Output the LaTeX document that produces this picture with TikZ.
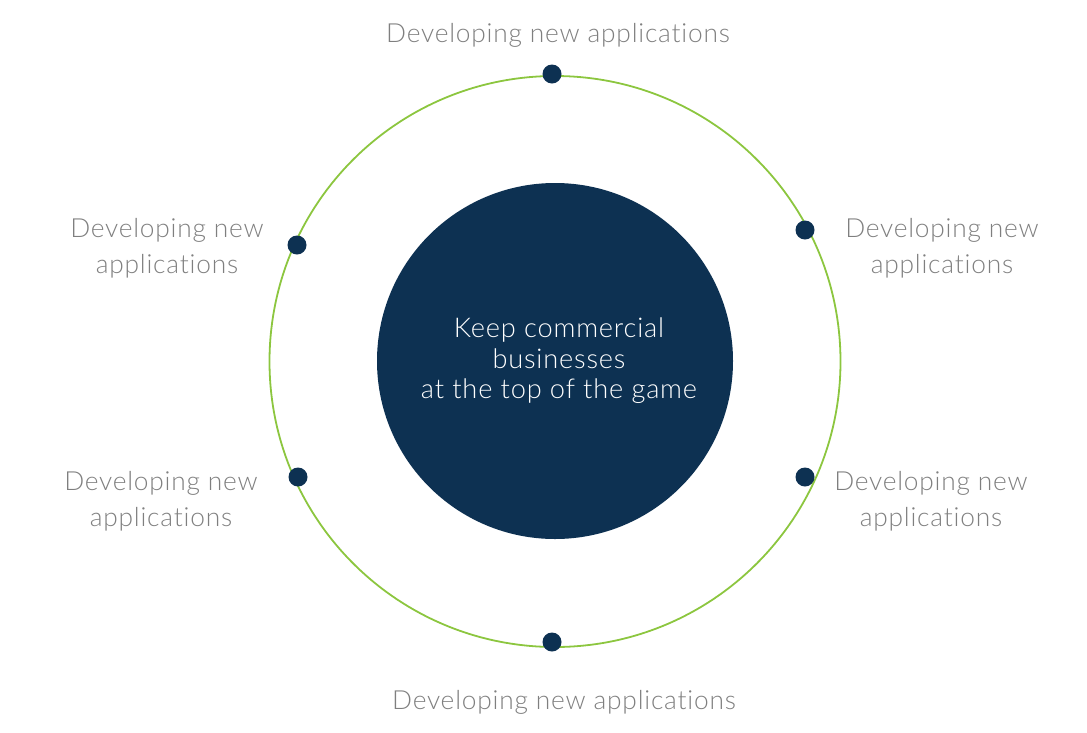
\documentclass[tikz,border=0pt]{standalone}
\usepackage{fontspec}
\setmainfont{Lato}[UprightFont=* Light, LetterSpace=3, Ligatures=NoCommon]
\definecolor{navy}{HTML}{0D3152}
\definecolor{ringgreen}{HTML}{8CC63F}
\definecolor{labelgray}{HTML}{7F7F7F}
\begin{document}
\begin{tikzpicture}[x=1pt,y=-1pt,
  ring/.style={draw=ringgreen, line width=1.8pt},
  hub/.style={circle, fill=navy, minimum size=356pt, inner sep=0pt},
  hubtext/.style={text=white, align=center, inner sep=0pt,
    font=\fontsize{27.2}{30.5}\selectfont},
  dot/.style={circle, fill=navy, minimum size=19pt, inner sep=0pt},
  lbl/.style={text=labelgray, align=center, inner sep=0pt,
    font=\fontsize{26.3}{36}\selectfont}]
  \useasboundingbox (0,0) rectangle (1087,732);
  % outer ring
  \node (ring) at (555,361.5) [circle, minimum size=571pt, inner sep=0pt, ring] {};
  % central disc and its caption
  \node (hub) at (555,361) [hub] {};
  \node (hubcap) at (559,361) [hubtext] {Keep commercial\\businesses\\at the top of the game};
  % points on the ring
  \node (dT)  at (552,74)  [dot] {};
  \node (dB)  at (552,642) [dot] {};
  \node (dUL) at (297,245) [dot] {};
  \node (dUR) at (805,230) [dot] {};
  \node (dLL) at (298,477) [dot] {};
  \node (dLR) at (805,477) [dot] {};
  % labels
  \node (lT)  at (558,35)  [lbl] {Developing new applications};
  \node (lB)  at (564,702) [lbl] {Developing new applications};
  \node (lUL) at (167,248) [lbl] {Developing new\\applications};
  \node (lUR) at (942,248) [lbl] {Developing new\\applications};
  \node (lLL) at (161,501) [lbl] {Developing new\\applications};
  \node (lLR) at (931,501) [lbl] {Developing new\\applications};
\end{tikzpicture}
\end{document}
